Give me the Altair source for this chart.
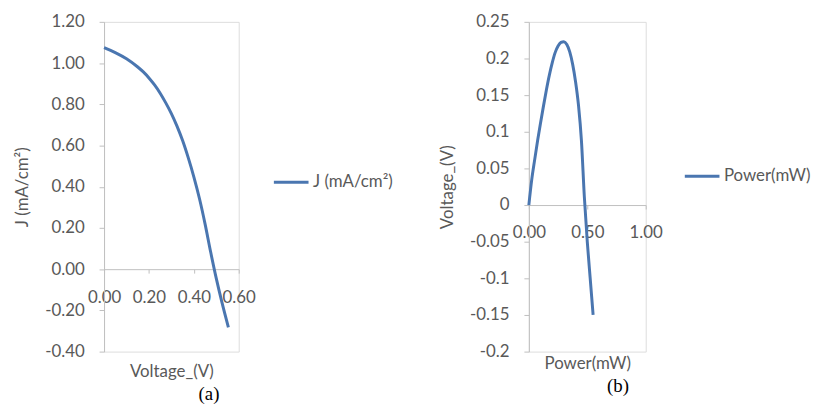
import altair as alt
import pandas as pd

# Panel (a): J-V curve
voltage_a = [0.0, 0.05, 0.10, 0.15, 0.175, 0.20, 0.225, 0.25, 0.275, 0.30, 0.325,
             0.35, 0.375, 0.40, 0.425, 0.45, 0.475, 0.50, 0.525, 0.554]
current_a = [1.075, 1.051, 1.021, 0.981, 0.957, 0.928, 0.894, 0.854, 0.807, 0.755,
             0.694, 0.624, 0.541, 0.448, 0.343, 0.22, 0.083, -0.045, -0.16, -0.282]
series_a = "J (mA/cm\u00b2)"

# Panel (b): power curve
voltage_b = [0.0, 0.025, 0.05, 0.075, 0.10, 0.125, 0.15, 0.175, 0.20, 0.225, 0.25,
             0.275, 0.30, 0.325, 0.35, 0.375, 0.40, 0.425, 0.45, 0.475, 0.50,
             0.525, 0.55]
power_b = [0.0, 0.035, 0.062, 0.088, 0.112, 0.135, 0.157, 0.177, 0.194, 0.208,
           0.217, 0.222, 0.223, 0.219, 0.209, 0.192, 0.168, 0.136, 0.088, 0.011,
           -0.05, -0.10, -0.15]
series_b = "Power(mW)"

ticks_ax = [0.0, 0.2, 0.4, 0.6]
ticks_ay = [-0.4, -0.2, 0.0, 0.2, 0.4, 0.6, 0.8, 1.0, 1.2]
ticks_bx = [0.0, 0.5, 1.0]
ticks_by = [-0.2, -0.15, -0.1, -0.05, 0.0, 0.05, 0.1, 0.15, 0.2, 0.25]

df_a = pd.DataFrame({"x": voltage_a, "y": current_a, "s": series_a})
df_b = pd.DataFrame({"x": voltage_b, "y": power_b, "s": series_b})

FONT = "Lato"
FS = 17
TXT = "#595959"
AX = "#bfbfbf"
LINE = "#4A76B0"
MINUS = "replace(format(datum.value, '{f}'), '\u2212', '-')"

W_A, H_A = 136, 333
W_B, H_B = 118, 333


def axis(values, fmt, title, **kw):
    return alt.Axis(values=values, labelExpr=MINUS.format(f=fmt), title=title,
                    grid=False, domainColor=AX, tickColor=AX, labelColor=TXT,
                    titleColor=TXT, labelFont=FONT, titleFont=FONT,
                    labelFontSize=FS, titleFontSize=FS, titleFontWeight="normal",
                    labelFlush=False, labelOverlap=False, **kw)


def legend(x, y):
    return alt.Legend(title=None, orient="none", legendX=x, legendY=y,
                      symbolType="stroke", symbolSize=1225, symbolStrokeWidth=3,
                      labelFont=FONT, labelFontSize=FS, labelColor=TXT, labelOffset=3)


def caption(text, dx):
    return alt.TitleParams(text, orient="bottom", font="Liberation Serif",
                           fontSize=19, fontWeight="normal", color="black",
                           offset=6, dx=dx)


chart_a = alt.Chart(df_a, title=caption("(a)", 38)).mark_line(
    strokeWidth=3, interpolate="monotone").encode(
    x=alt.X("x:Q", scale=alt.Scale(domain=[0, 0.6], nice=False),
            axis=axis(ticks_ax, ".2f", "Voltage_(V)", offset=-H_A * 0.4 / 1.6,
                      tickSize=4, labelPadding=17, titlePadding=58)),
    y=alt.Y("y:Q", scale=alt.Scale(domain=[-0.4, 1.2], nice=False),
            axis=axis(ticks_ay, ".2f", series_a, tickSize=5, labelPadding=15,
                      titlePadding=13)),
    color=alt.Color("s:N", scale=alt.Scale(range=[LINE]), legend=legend(170, 143)),
).properties(width=W_A, height=H_A)

chart_b = alt.Chart(df_b, title=caption("(b)", 31)).mark_line(
    strokeWidth=3, interpolate="monotone").encode(
    x=alt.X("x:Q", scale=alt.Scale(domain=[0, 1.0], nice=False),
            axis=axis(ticks_bx, ".2f", "Power(mW)", offset=-H_B * 0.2 / 0.45,
                      tickSize=4, labelPadding=16, titlePadding=116)),
    y=alt.Y("y:Q", scale=alt.Scale(domain=[-0.2, 0.25], nice=False),
            axis=axis(ticks_by, "~g", "Voltage_(V)", tickSize=5, labelPadding=15,
                      titlePadding=13)),
    color=alt.Color("s:N", scale=alt.Scale(range=[LINE]), legend=legend(156, 137)),
).properties(width=W_B, height=H_B)

chart = alt.hconcat(chart_a, chart_b, spacing=44).resolve_scale(
    color="independent").resolve_legend(color="independent").configure_view(
    stroke=None).configure(background="white").properties(
    padding={"left": 5, "top": 2, "right": 5, "bottom": 5})

chart.save("out.html", embed_options={"renderer": "svg", "actions": False})
